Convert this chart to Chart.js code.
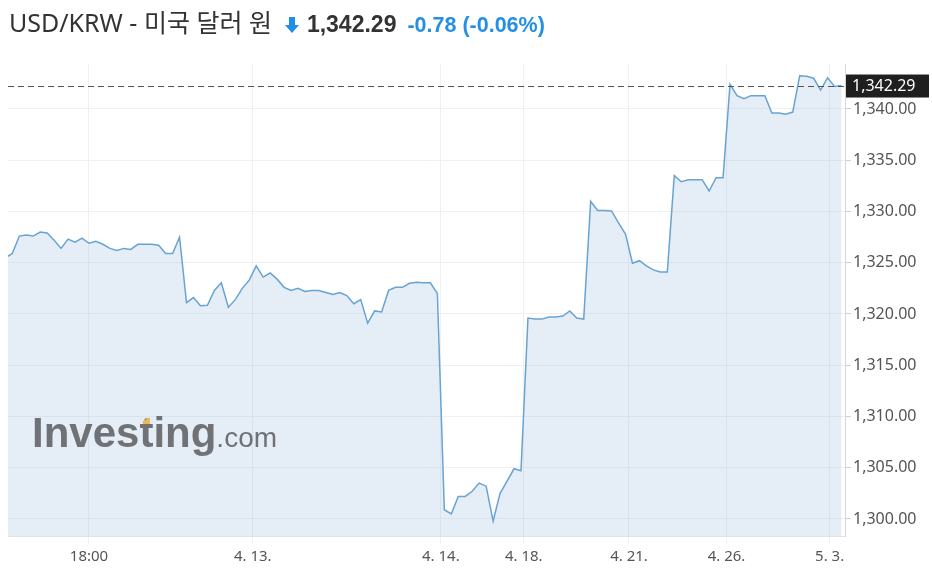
<!DOCTYPE html>
<html>
<head>
<meta charset="utf-8">
<script src="https://cdn.jsdelivr.net/npm/chart.js@4/dist/chart.umd.min.js"></script>
<style>
  html, body { margin: 0; padding: 0; background: #fff; }
  #wrap { position: relative; width: 932px; height: 578px; overflow: hidden; }
  #title { position: absolute; left: 9px; top: 5px; white-space: nowrap; line-height: 34px; }
  #title .name { font-size: 25px; color: #333; font-family: "Noto Sans", "Noto Sans CJK KR", sans-serif; }
  #title .arrow { display: inline-block; margin-left: 13px; vertical-align: -1px; }
  #title .price { font-size: 23px; font-weight: bold; color: #333; margin-left: 8px; font-family: "Liberation Sans", Arial, sans-serif; }
  #title .chg { font-size: 21.5px; font-weight: bold; color: #2590e3; margin-left: 11px; font-family: "Liberation Sans", Arial, sans-serif; }
  canvas { position: absolute; left: 0; top: 0; }
</style>
</head>
<body>
<div id="wrap">
  <canvas id="c" width="932" height="578"></canvas>
  <div id="title"><span class="name">USD/KRW - 미국 달러 원</span><svg class="arrow" width="14" height="16" viewBox="0 0 14 16"><path d="M4 0 H10 V8 H14 L7 16 L0 8 H4 Z" fill="#1e8fe6"/></svg><span class="price">1,342.29</span><span class="chg">-0.78 (-0.06%)</span></div>
</div>
<script>
// ---- data ----
const lastPrice = 1342.29;
const values = [
  1325.5, 1325.9, 1327.6, 1327.7, 1327.6, 1328.0, 1327.9, 1327.2, 1326.4, 1327.3,
  1327.0, 1327.4, 1326.9, 1327.1, 1326.8, 1326.4, 1326.2, 1326.4, 1326.3, 1326.8,
  1326.8, 1326.8, 1326.7, 1325.9, 1325.9, 1327.5, 1321.1, 1321.6, 1320.8, 1320.85,
  1322.3, 1323.05, 1320.65, 1321.4, 1322.5, 1323.3, 1324.7, 1323.6, 1324.0, 1323.4,
  1322.6, 1322.3, 1322.5, 1322.2, 1322.3, 1322.3, 1322.1, 1321.9, 1322.1, 1321.8,
  1321.0, 1321.4, 1319.1, 1320.3, 1320.2, 1322.3, 1322.6, 1322.6, 1323.0, 1323.1,
  1323.05, 1323.05, 1322.0, 1300.9, 1300.5, 1302.2, 1302.2, 1302.7, 1303.5, 1303.2,
  1299.8, 1302.5, 1303.7, 1304.9, 1304.7, 1319.6, 1319.5, 1319.5, 1319.7, 1319.7,
  1319.8, 1320.3, 1319.6, 1319.5, 1331.0, 1330.1, 1330.1, 1330.05, 1328.9, 1327.8,
  1324.95, 1325.2, 1324.7, 1324.3, 1324.1, 1324.1, 1333.5, 1332.9, 1333.1, 1333.1,
  1333.1, 1332.0, 1333.3, 1333.3, 1342.4, 1341.3, 1341.0, 1341.3, 1341.3, 1341.3,
  1339.6, 1339.6, 1339.5, 1339.7, 1343.25, 1343.2, 1343.0, 1341.85, 1343.05, 1342.2,
  1342.29
];
const xTickPositions = [12, 35.5, 62.5, 74.4, 89.5, 103.5, 118.3];
const xTickLabels = ["18:00", "4. 13.", "4. 14.", "4. 18.", "4. 21.", "4. 26.", "5. 3."];
const yTicks = [1300, 1305, 1310, 1315, 1320, 1325, 1330, 1335, 1340];

const points = values.map((v, i) => ({ x: i, y: v }));
const fmt = v => v.toLocaleString('en-US', { minimumFractionDigits: 2, maximumFractionDigits: 2 });

const overlay = {
  id: 'overlay',
  afterDatasetsDraw(chart) {
    const { ctx, chartArea, scales } = chart;
    // watermark
    ctx.save();
    ctx.fillStyle = 'rgb(112,114,117)';
    ctx.textBaseline = 'alphabetic';
    ctx.font = 'bold 42px "Liberation Sans", Arial, sans-serif';
    const x0 = 32, base = 447;
    ctx.fillText('Investing', x0, base);
    const w = ctx.measureText('Investing').width;
    const tx = x0 + ctx.measureText('Inves').width;
    const tw = ctx.measureText('t').width;
    ctx.font = '28px "Liberation Sans", Arial, sans-serif';
    ctx.fillText('.com', x0 + w, base);
    // small orange accent on top of the "t"
    ctx.fillStyle = 'rgb(240,184,80)';
    ctx.beginPath();
    ctx.moveTo(tx + tw * 0.25, base - 26);
    ctx.lineTo(tx + tw * 0.75, base - 29.5);
    ctx.lineTo(tx + tw * 0.75, base - 23);
    ctx.lineTo(tx + tw * 0.25, base - 23);
    ctx.closePath(); ctx.fill();
    ctx.restore();
    // last price dashed line
    const y = Math.round(scales.y.getPixelForValue(lastPrice)) + 0.5;
    ctx.save();
    ctx.strokeStyle = '#555';
    ctx.lineWidth = 1;
    ctx.setLineDash([6, 4]);
    ctx.beginPath();
    ctx.moveTo(chartArea.left, y);
    ctx.lineTo(chartArea.right, y);
    ctx.stroke();
    ctx.restore();
  },
  afterDraw(chart) {
    const { ctx, chartArea, scales } = chart;
    const y = scales.y.getPixelForValue(lastPrice);
    ctx.save();
    ctx.fillStyle = '#1f1f1f';
    ctx.fillRect(chartArea.right + 1, y - 11, 83, 23);
    ctx.fillStyle = '#fff';
    ctx.font = '16px "Noto Sans", sans-serif';
    ctx.textBaseline = 'middle';
    ctx.textAlign = 'left';
    ctx.fillText(fmt(lastPrice), chartArea.right + 7, y + 1);
    ctx.restore();
  }
};

new Chart(document.getElementById('c'), {
  type: 'line',
  data: {
    datasets: [{
      data: points,
      borderColor: 'rgb(104,164,210)',
      borderWidth: 1.5,
      backgroundColor: 'rgba(168,196,224,0.3)',
      fill: 'start',
      pointRadius: 0,
      tension: 0
    }]
  },
  options: {
    responsive: false,
    animation: false,
    events: [],
    layout: { padding: { top: 64, left: 8, right: 0, bottom: 0 } },
    plugins: { legend: { display: false }, tooltip: { enabled: false } },
    scales: {
      x: {
        type: 'linear',
        min: 0.38,
        max: 120.5,
        afterBuildTicks: s => { s.ticks = xTickPositions.map(v => ({ value: v })); },
        afterFit: s => { s.height = 42; },
        grid: { color: '#f0f0f0', tickLength: 8, drawOnChartArea: true },
        border: { color: '#e2e2e2' },
        ticks: {
          autoSkip: false, maxRotation: 0, padding: 4,
          color: '#555',
          font: { family: '"Noto Sans", sans-serif', size: 15 },
          callback: (v, i) => xTickLabels[i]
        }
      },
      y: {
        position: 'right',
        min: 1298.34,
        max: 1344.39,
        afterBuildTicks: s => { s.ticks = yTicks.map(v => ({ value: v })); },
        afterFit: s => { s.width = 87; },
        grid: { color: '#f0f0f0', tickLength: 6, tickColor: '#cfcfcf' },
        border: { color: '#d6d6d6' },
        ticks: {
          padding: 2,
          color: '#555',
          font: { family: '"Noto Sans", sans-serif', size: 16 },
          callback: v => fmt(v)
        }
      }
    }
  },
  plugins: [overlay]
});
</script>
</body>
</html>
